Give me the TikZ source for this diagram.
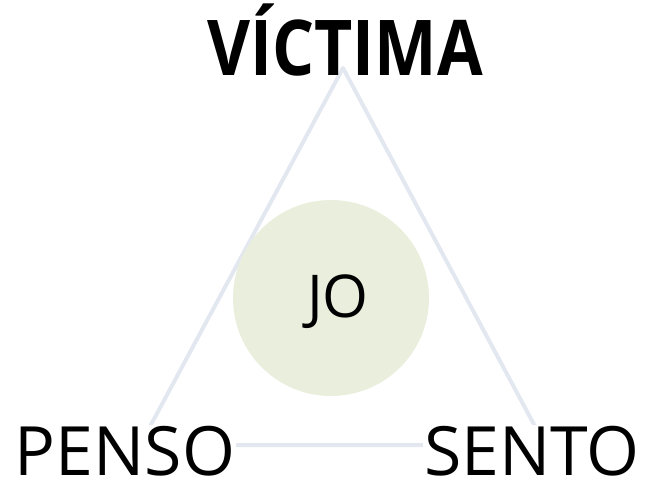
\documentclass[tikz,border=0pt]{standalone}
\usepackage{fontspec}
\setmainfont{Open Sans}
\usepackage{xcolor}
\definecolor{edgegrey}{HTML}{E3E8F0}
\definecolor{jogreen}{HTML}{EAEEDD}
\tikzset{lbl/.style={fill=white,inner sep=1pt,text depth=0pt,anchor=base,font=\fontsize{68}{68}\selectfont}}

\begin{document}
\begin{tikzpicture}[x=1pt,y=-1pt]
\useasboundingbox (0,0) rectangle (654,491);
\coordinate (v) at (343,68);
\coordinate (p) at (140,445);
\coordinate (s) at (545,445);
\draw [edgegrey,line width=4pt,line join=round] (v) -- (p) -- (s) -- cycle;
\node (jo) at (331,298) [circle,fill=jogreen,minimum size=196pt] {};
\node (jotext) at (338,317) [anchor=base,inner sep=0pt,font=\fontsize{59}{59}\selectfont] {JO};
\node (victima) at (345,75) [anchor=base,inner sep=0pt,font=\bfseries\fontsize{77}{77}\selectfont] {\scalebox{0.86}[1]{VÍCTIMA}};
\node (penso) at (125,475) [lbl] {PENSO};
\node (sento) at (532,475) [lbl] {SENTO};
\end{tikzpicture}
\end{document}
